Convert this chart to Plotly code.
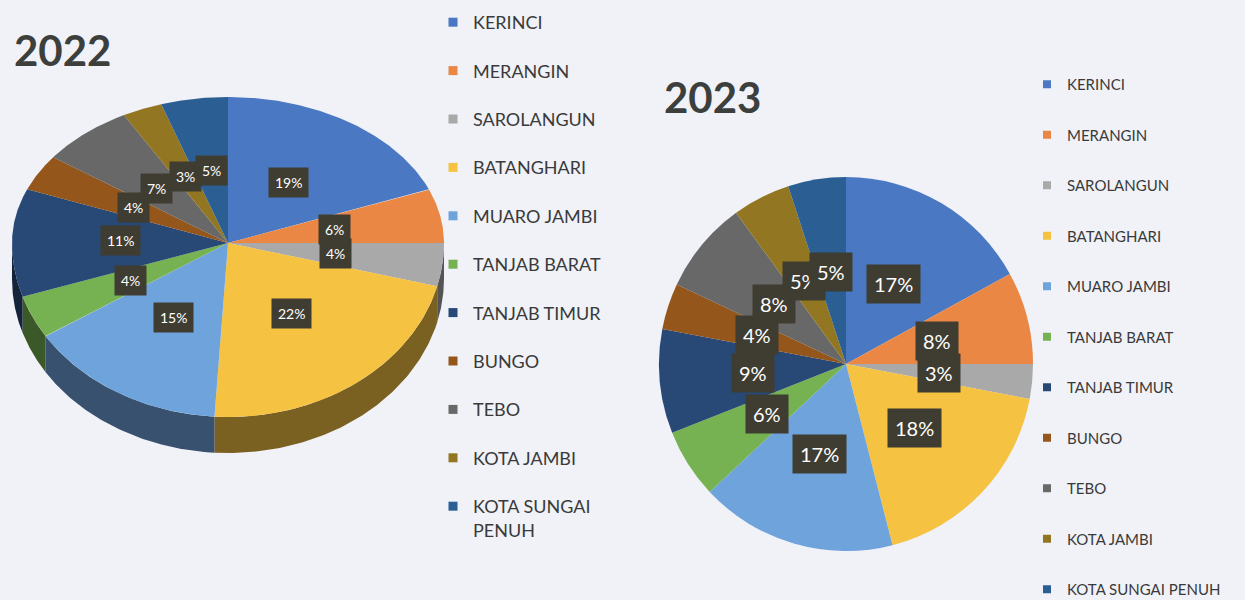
import numpy as np
import plotly.graph_objects as go

# Regional shares (percent) per year
regions = ["KERINCI", "MERANGIN", "SAROLANGUN", "BATANGHARI", "MUARO JAMBI",
           "TANJAB BARAT", "TANJAB TIMUR", "BUNGO", "TEBO", "KOTA JAMBI",
           "KOTA SUNGAI PENUH"]
share_2022 = [19, 6, 4, 22, 15, 4, 11, 4, 7, 3, 5]
share_2023 = [17, 8, 3, 18, 17, 6, 9, 4, 8, 5, 5]
years = ["2022", "2023"]

colors = ["#4a78c2", "#ea8744", "#a9a9a9", "#f5c242", "#6ea3dc", "#76b152",
          "#284876", "#94561a", "#686868", "#937621", "#2b5f93"]

W, H = 1245, 600
BG = "#f0f2f7"
LABEL_BG = "#3f3d31"
FONT = "Lato"


def shade(hex_color, k):
    h = hex_color.lstrip("#")
    r, g, b = (int(h[i:i + 2], 16) for i in (0, 2, 4))
    return "rgb(%d,%d,%d)" % (r * k, g * k, b * k)


fig = go.Figure()

# ---- 2022: tilted 3D pie drawn on a pixel-scaled cartesian canvas ----
CX, CY = 228, 243          # apex of the slices
RX, RY_UP, RY_DN = 216, 146, 174   # far half appears flatter than near half
DEPTH = 36


def rim(theta_deg):
    t = np.radians(theta_deg)
    c = np.cos(t)
    ry = np.where(c >= 0, RY_UP, RY_DN)
    return CX + RX * np.sin(t), CY - ry * c


tot22 = sum(share_2022)
edges22 = np.concatenate([[0], np.cumsum(share_2022)]) / tot22 * 360

# side walls (only the front half is visible)
for i, c in enumerate(colors):
    a, b = max(edges22[i], 90), min(edges22[i + 1], 270)
    if a >= b:
        continue
    th = np.linspace(a, b, 80)
    x, y = rim(th)
    fig.add_trace(go.Scatter(
        x=np.concatenate([x, x[::-1]]), y=np.concatenate([y, y[::-1] + DEPTH]),
        fill="toself", fillcolor=shade(c, 0.5), mode="lines",
        line=dict(width=0, color=shade(c, 0.5)), hoverinfo="skip", showlegend=False))

# top faces
for i, c in enumerate(colors):
    th = np.linspace(edges22[i], edges22[i + 1], 120)
    x, y = rim(th)
    fig.add_trace(go.Scatter(
        x=np.concatenate([[CX], x, [CX]]), y=np.concatenate([[CY], y, [CY]]),
        fill="toself", fillcolor=c, mode="lines", line=dict(width=0, color=c),
        name=regions[i], hoverinfo="name", showlegend=False))

annotations = []
for i, v in enumerate(share_2022):
    mid = (edges22[i] + edges22[i + 1]) / 2
    t = np.radians(mid)
    ry = RY_UP if np.cos(t) >= 0 else RY_DN
    annotations.append(dict(
        x=CX + 0.5 * RX * np.sin(t), y=CY - 0.5 * ry * np.cos(t),
        xref="x", yref="y", text=f"{v}%", showarrow=False,
        font=dict(family=FONT, size=14, color="white"),
        bgcolor=LABEL_BG, borderpad=6))

# ---- 2023: flat pie ----
PX0, PX1, PY0, PY1 = 659, 1033, 177, 551
pcx, pcy, pr = (PX0 + PX1) / 2, (PY0 + PY1) / 2, (PX1 - PX0) / 2
fig.add_trace(go.Pie(
    values=share_2023, labels=regions, sort=False, direction="clockwise",
    rotation=0, textinfo="none", marker=dict(colors=colors, line=dict(width=0)),
    domain=dict(x=[PX0 / W, PX1 / W], y=[1 - PY1 / H, 1 - PY0 / H]),
    showlegend=False, hoverinfo="label+percent"))

tot23 = sum(share_2023)
edges23 = np.concatenate([[0], np.cumsum(share_2023)]) / tot23 * 360
for i, v in enumerate(share_2023):
    t = np.radians((edges23[i] + edges23[i + 1]) / 2)
    annotations.append(dict(
        x=pcx + 0.5 * pr * np.sin(t), y=pcy - 0.5 * pr * np.cos(t),
        xref="x", yref="y", text=f"{v}%", showarrow=False,
        font=dict(family=FONT, size=20, color="white"),
        bgcolor=LABEL_BG, borderpad=7))

# year titles
annotations.append(dict(x=12, y=50, xref="x", yref="y", xanchor="left",
                        yanchor="middle", text=f"<b>{years[0]}</b>", showarrow=False,
                        font=dict(family=FONT, size=42, color="#3c3f3b")))
annotations.append(dict(x=662, y=97, xref="x", yref="y", xanchor="left",
                        yanchor="middle", text=f"<b>{years[1]}</b>", showarrow=False,
                        font=dict(family=FONT, size=42, color="#3c3f3b")))

# legend entries for both charts
for i, c in enumerate(colors):
    fig.add_trace(go.Scatter(
        x=[None], y=[None], mode="markers",
        marker=dict(symbol="square", size=9, color=c),
        name=regions[i].replace("SUNGAI ", "SUNGAI<br>"),
        legend="legend", legendgroup=f"a{i}"))
for i, c in enumerate(colors):
    fig.add_trace(go.Scatter(
        x=[None], y=[None], mode="markers",
        marker=dict(symbol="square", size=8, color=c),
        name=regions[i], legend="legend2", legendgroup=f"b{i}"))

fig.update_layout(
    width=W, height=H, margin=dict(l=0, r=0, t=0, b=0, autoexpand=False),
    paper_bgcolor=BG, plot_bgcolor=BG,
    xaxis=dict(range=[0, W], visible=False, fixedrange=True),
    yaxis=dict(range=[H, 0], visible=False, fixedrange=True),
    annotations=annotations,
    showlegend=True,
    legend=dict(x=433 / W, y=1 - 4 / H, xanchor="left", yanchor="top",
                font=dict(family=FONT, size=18, color="#3a3a3a"),
                tracegroupgap=22, valign="top", bgcolor="rgba(0,0,0,0)",
                itemclick=False, itemdoubleclick=False),
    legend2=dict(x=1027 / W, y=1 - 68 / H, xanchor="left", yanchor="top",
                 font=dict(family=FONT, size=15, color="#3a3a3a"),
                 tracegroupgap=28, bgcolor="rgba(0,0,0,0)",
                 itemclick=False, itemdoubleclick=False),
)

fig.write_html("out.html")
